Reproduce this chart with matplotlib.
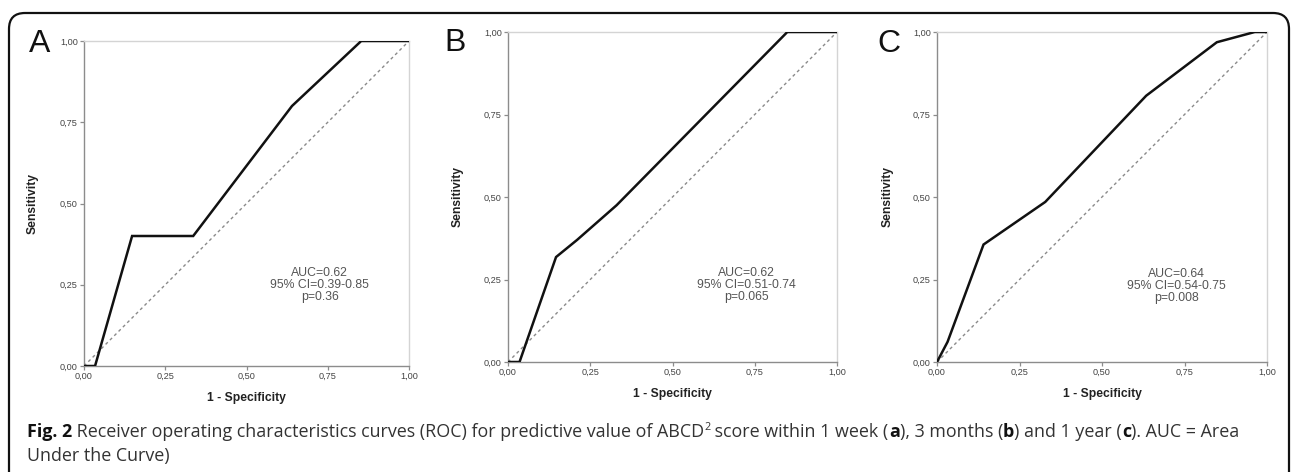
import matplotlib
matplotlib.use("Agg")
import matplotlib.pyplot as plt
from matplotlib.patches import FancyBboxPatch

# ---- data ----
fpr_a = [0.0, 0.034, 0.148, 0.336, 0.640, 0.853, 1.0]
tpr_a = [0.0, 0.0, 0.40, 0.40, 0.80, 1.0, 1.0]

fpr_b = [0.0, 0.035, 0.146, 0.21, 0.33, 0.849, 1.0]
tpr_b = [0.0, 0.0, 0.318, 0.37, 0.475, 1.0, 1.0]

fpr_c = [0.0, 0.032, 0.141, 0.328, 0.634, 0.848, 0.963, 1.0]
tpr_c = [0.0, 0.061, 0.356, 0.485, 0.807, 0.969, 1.0, 1.0]

panel_letters = ["A", "B", "C"]
stats = [["AUC=0.62", "95% CI=0.39-0.85", "p=0.36"],
         ["AUC=0.62", "95% CI=0.51-0.74", "p=0.065"],
         ["AUC=0.64", "95% CI=0.54-0.75", "p=0.008"]]
ticks = [0.0, 0.25, 0.5, 0.75, 1.0]
tick_labels = ["0,00", "0,25", "0,50", "0,75", "1,00"]
xlabel = "1 - Specificity"
ylabel = "Sensitivity"

W, H = 1292, 472
fig = plt.figure(figsize=(W / 100, H / 100), dpi=100)

def px_rect(l, t, r, b):
    return [l / W, 1 - b / H, (r - l) / W, (b - t) / H]

rects = [px_rect(84, 41, 409, 366), px_rect(508, 32, 837, 362), px_rect(937, 32, 1267, 362)]
letter_pos = [(40, 52), (455, 51), (889, 52)]
ylabel_x = [33, 458, 888]
stat_y = [0.305, 0.288, 0.285]
curves = [(fpr_a, tpr_a), (fpr_b, tpr_b), (fpr_c, tpr_c)]

font = "Liberation Sans"
for i, (rect, (fx, ty)) in enumerate(zip(rects, curves)):
    ax = fig.add_axes(rect)
    ax.set_xlim(0, 1)
    ax.set_ylim(0, 1)
    ax.plot([0, 1], [0, 1], color="#8a8a8a", lw=1.0, ls=(0, (2.2, 2.2)), zorder=2)
    ax.plot(fx, ty, color="#111111", lw=1.8, zorder=3, solid_joinstyle="miter")
    for s in ["left", "bottom"]:
        ax.spines[s].set_color("#8c8c8c")
        ax.spines[s].set_linewidth(1.0)
    for s in ["top", "right"]:
        ax.spines[s].set_color("#d4d4d4")
        ax.spines[s].set_linewidth(1.0)
    ax.set_xticks(ticks)
    ax.set_yticks(ticks)
    ax.set_xticklabels(tick_labels, fontsize=6.6, family=font, color="#444444")
    ax.set_yticklabels(tick_labels, fontsize=6.6, family=font, color="#444444")
    ax.tick_params(direction="out", length=3, width=0.9, color="#8c8c8c", pad=1.5)
    ax.set_xlabel(xlabel, fontsize=8.7, family=font, fontweight="bold", color="#222222", labelpad=8)
    ax.text(0.725, stat_y[i], "\n".join(stats[i]), transform=ax.transAxes, ha="center", va="top",
            fontsize=8.8, family=font, color="#555555", linespacing=1.0)
    fig.text(ylabel_x[i] / W, (rect[1] + rect[3] / 2), ylabel, rotation=90, ha="center", va="center",
             fontsize=8.7, family=font, fontweight="bold", color="#222222")
    lx, ly = letter_pos[i]
    fig.text(lx / W, 1 - ly / H, panel_letters[i], ha="center", va="baseline",
             fontsize=23, family=font, color="#111111")

# outer rounded frame
frame = FancyBboxPatch((9 / 100, -0.3), (1289 - 9) / 100, (H - 13) / 100 + 0.3,
                       boxstyle="round,pad=0,rounding_size=0.16",
                       transform=fig.dpi_scale_trans, fill=False, edgecolor="#111111",
                       linewidth=1.6, clip_on=False)
fig.patches.append(frame)

# caption pieces
line1 = [("Fig. 2", "bold", 0), (" Receiver operating characteristics curves (ROC) for predictive value of ABCD", "normal", 0),
         ("2", "normal", 1), (" score within 1 week (", "normal", 0), ("a", "bold", 0),
         ("), 3 months (", "normal", 0), ("b", "bold", 0), (") and 1 year (", "normal", 0),
         ("c", "bold", 0), ("). AUC = Area", "normal", 0)]
line2 = [("Under the Curve)", "normal", 0)]

cap_font = "Open Sans"
cap_size = 12.9
renderer = fig.canvas.get_renderer()

def draw_line(pieces, x0, y0):
    x = x0
    for txt, wt, sup in pieces:
        size = cap_size * (0.6 if sup else 1.0)
        yy = y0 - (7 if sup else 0)
        color = "#111111" if wt == "bold" else "#333333"
        t = fig.text(x / W, 1 - yy / H, txt, fontsize=size, family=cap_font, fontweight=wt,
                     color=color, ha="left", va="baseline")
        bb = t.get_window_extent(renderer=renderer)
        x += bb.width

draw_line(line1, 27, 437)
draw_line(line2, 27, 461)

fig.savefig("out.png", dpi=100)
